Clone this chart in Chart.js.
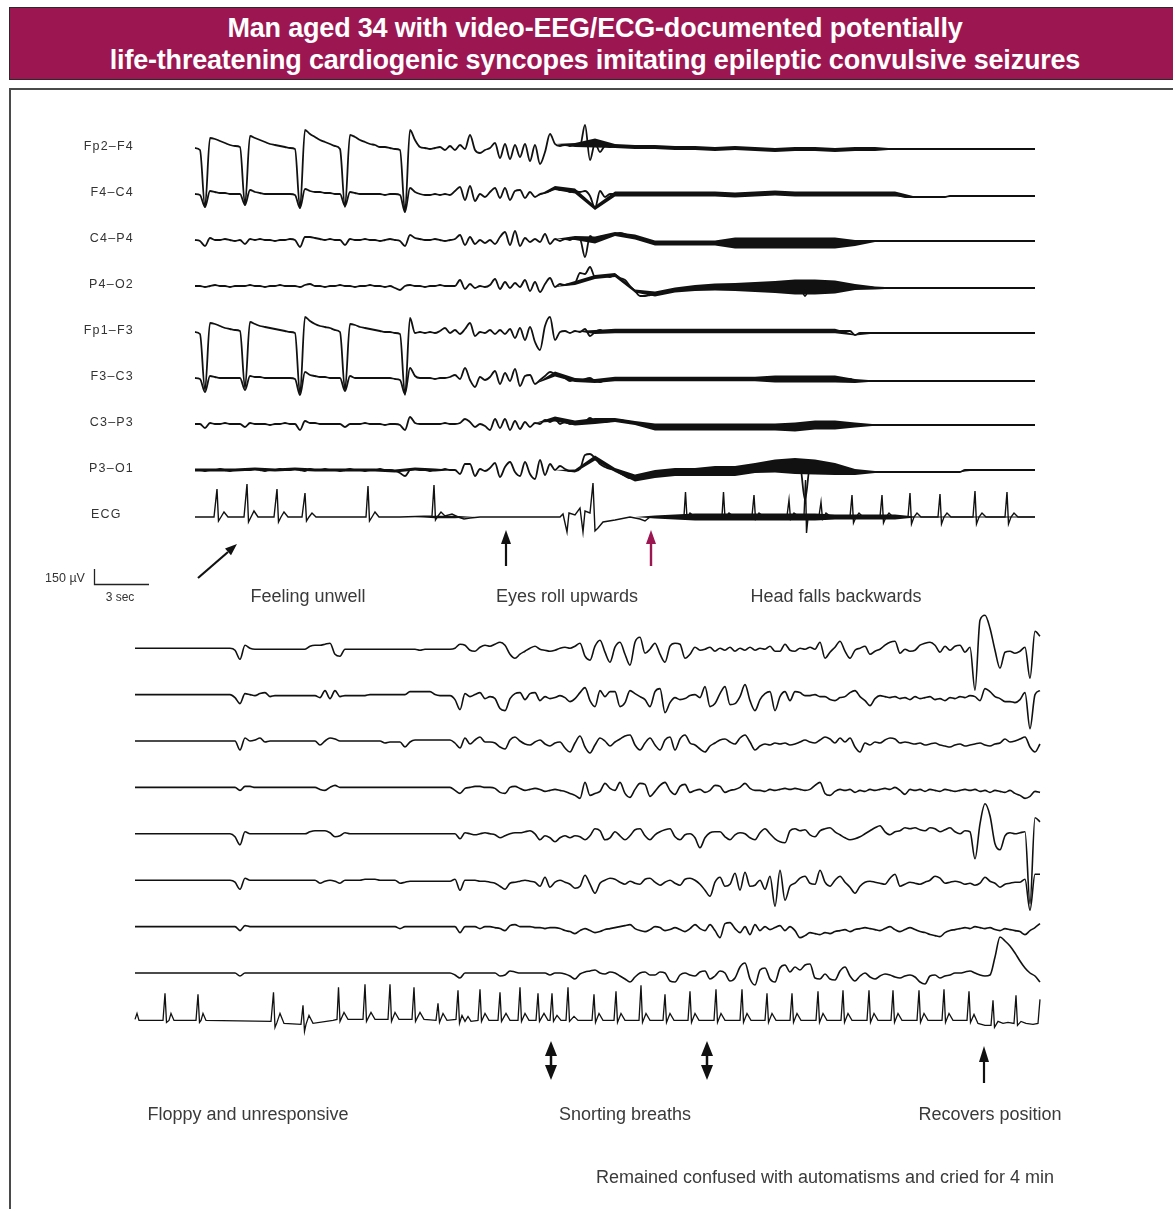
<!DOCTYPE html>
<html>
<head>
<meta charset="utf-8">
<script src="https://cdn.jsdelivr.net/npm/chart.js@4.4.1/dist/chart.umd.min.js"></script>
<style>
  html, body { margin: 0; padding: 0; background: #fff; }
  body { position: relative; width: 1173px; height: 1209px; overflow: hidden;
         font-family: "Liberation Sans", Arial, Helvetica, sans-serif; color: #333; }
  #banner { position: absolute; left: 9px; top: 7px; width: 1172px; height: 73px;
            background: #9c1652; border: 1.5px solid #2a2a2a; box-sizing: border-box;
            color: #fff; font-weight: bold; font-size: 27px; line-height: 32px;
            text-align: center; padding-top: 4px; letter-spacing: -0.2px; }
  #frame { position: absolute; left: 9px; top: 88px; width: 1180px; height: 1140px;
           border: 2px solid #4a4a4a; box-sizing: border-box; }
  canvas { position: absolute; }
  #early { left: 185px; top: 105px; }
  #late { left: 125px; top: 605px; }
  svg { position: absolute; left: 0; top: 0; }
  .chan { position: absolute; font-size: 12.5px; letter-spacing: 1.2px; color: #333;
          transform: translateY(-50%); white-space: nowrap; }
  .note { position: absolute; font-size: 18px; color: #3a3a3a; white-space: nowrap;
          transform: translate(-50%, -50%); }
  .small { position: absolute; font-size: 12.5px; color: #333; white-space: nowrap;
           transform: translate(-50%, -50%); }
</style>
</head>
<body>
<div id="banner">
  <div>Man aged 34 with video-EEG/ECG-documented potentially</div>
  <div>life-threatening cardiogenic syncopes imitating epileptic convulsive seizures</div>
</div>
<div id="frame"></div>

<canvas id="early" width="860" height="454"></canvas>
<canvas id="late" width="925" height="458"></canvas>

<svg width="1173" height="1209">
  <!-- calibration bar -->
  <path d="M94.5 569 V584.5 H149" stroke="#222" stroke-width="1.3" fill="none"/>
  <!-- feeling unwell -->
  <line x1="198" y1="578" x2="228" y2="552" stroke="#111" stroke-width="2.2"/>
  <polygon points="237,544 225,548.5 231,555.3" fill="#111"/>
  <!-- eyes roll upwards -->
  <line x1="506" y1="566" x2="506" y2="542" stroke="#111" stroke-width="2.2"/>
  <polygon points="506,530 501,544 511,544" fill="#111"/>
  <!-- head falls backwards -->
  <line x1="651" y1="566" x2="651" y2="542" stroke="#9c1652" stroke-width="2.4"/>
  <polygon points="651,530 646,544 656,544" fill="#9c1652"/>
  <!-- snorting breaths -->
  <line x1="551" y1="1054" x2="551" y2="1067" stroke="#111" stroke-width="2.5"/>
  <polygon points="551,1041 545,1056 557,1056" fill="#111"/>
  <polygon points="551,1080 545,1065 557,1065" fill="#111"/>
  <line x1="707" y1="1054" x2="707" y2="1067" stroke="#111" stroke-width="2.5"/>
  <polygon points="707,1041 701,1056 713,1056" fill="#111"/>
  <polygon points="707,1080 701,1065 713,1065" fill="#111"/>
  <!-- recovers position -->
  <line x1="984" y1="1060" x2="984" y2="1083" stroke="#111" stroke-width="2.2"/>
  <polygon points="984,1046 979,1062 989,1062" fill="#111"/>
</svg>

<div class="small" style="left:65px; top:578px;">150 µV</div>
<div class="small" style="left:120px; top:597px; font-size:12px;">3 sec</div>

<div class="note" style="left:308px; top:596px;">Feeling unwell</div>
<div class="note" style="left:567px; top:596px;">Eyes roll upwards</div>
<div class="note" style="left:836px; top:596px;">Head falls backwards</div>
<div class="note" style="left:248px; top:1114px;">Floppy and unresponsive</div>
<div class="note" style="left:625px; top:1114px;">Snorting breaths</div>
<div class="note" style="left:990px; top:1114px;">Recovers position</div>
<div class="note" style="left:825px; top:1177px;">Remained confused with automatisms and cried for 4 min</div>

<script>
// EEG; one sample every DT seconds, values in µV
const DT = 0.27;
const channelNames = ["Fp2–F4", "F4–C4", "C4–P4", "P4–O2", "Fp1–F3", "F3–C3", "C3–P3", "P3–O1", "ECG"];

// ---- first page (onset) ----
const fp2F4 = [
  0,-20,-590,100,90,70,50,30,20,10,
  -570,120,100,80,60,40,30,20,10,0,
  -10,-600,180,140,110,80,60,40,20,-10,
  -590,130,110,80,60,40,30,10,10,0,
  -10,-20,-640,180,80,10,0,-10,0,10,
  -20,20,-20,30,-10,130,-20,-50,-20,0,
  50,-100,40,-110,30,-90,40,-130,30,-160,
  -40,140,40,20,30,20,30,20,230,-120,
  50,-40,20,10,20,20,10,10,10,10,
  10,10,10,0,10,0,0,0,0,0,
  0,0,0,0,-10,0,0,-10,0,-10,
  -10,-10,-10,-10,-10,-10,-20,-10,-10,-10,
  -10,-10,-20,-10,-10,-10,-10,-10,-20,-10,
  -10,-10,-10,-20,-10,-10,-10,-10,-10,-10,
  -10,-10,-10,-10,-10,-10,-10,-10,-10,-10,
  -10,-10,-10,-10,-10,-10,-10,-10,-10,-10,
  -10,-10,-10,-10,-10,-10,-10,-10,-10
];
const f4C4 = [
  0,-10,-130,30,20,10,10,0,0,0,
  -110,40,20,10,0,0,0,0,0,0,
  -10,-140,50,30,20,20,10,10,0,0,
  -120,20,10,0,0,0,0,0,-10,0,
  0,-10,-180,60,20,0,-10,-10,0,-10,
  0,-10,30,70,-60,80,-70,0,-30,20,
  60,-40,60,-60,30,40,-40,20,-30,0,
  10,30,60,40,50,20,30,20,30,-20,
  -140,30,-30,0,0,10,0,0,0,0,
  0,0,0,0,0,0,0,0,0,0,
  0,0,0,10,0,0,0,0,-10,0,
  0,0,0,0,0,0,10,0,0,0,
  0,0,-10,0,0,0,0,0,0,0,
  0,0,0,0,0,0,0,0,0,0,
  0,-20,-30,-30,-30,-30,-30,-30,-30,-30,
  -30,-20,-20,-20,-20,-20,-20,-20,-20,-20,
  -20,-20,-20,-20,-20,-20,-20,-20,-20
];
const c4P4 = [
  0,-10,-60,20,0,0,10,0,-10,0,
  -40,10,0,10,0,0,-10,0,0,10,
  0,-70,30,30,20,10,0,10,0,0,
  -50,10,0,0,10,0,0,-10,0,10,
  0,-10,-60,50,20,10,0,0,10,0,
  -10,0,10,50,-50,30,-40,0,-30,0,
  -40,30,80,-50,90,-60,20,-20,10,-20,
  60,-40,10,-10,10,0,20,10,-170,40,
  0,30,40,50,60,70,60,40,30,10,
  -10,-20,-30,-30,-30,-30,-30,-30,-30,-30,
  -30,-30,-30,-30,-30,-30,-30,-30,-30,-30,
  -30,-30,-30,-30,-30,-30,-30,-30,-30,-30,
  -30,-30,-30,-30,-30,-30,-30,-30,-30,-30,
  -30,-30,-30,-30,-10,-10,-10,-10,-10,-10,
  -10,-10,-10,-10,-10,-10,-10,-10,-10,-10,
  -10,-10,-10,-10,-10,-10,-10,-10,-10,-10,
  -10,-10,-10,-10,-10,-10,-10,-10,-10
];
const p4O2 = [
  0,0,-10,0,10,0,0,-10,0,0,
  0,10,0,0,-10,0,0,10,0,0,
  0,-10,10,20,0,0,-10,0,0,10,
  0,0,-10,0,0,10,0,0,-10,0,
  -20,-40,0,10,0,0,-10,0,0,10,
  0,0,0,60,-30,20,-20,0,-10,10,
  70,-30,40,-20,30,-10,60,-50,40,-60,
  20,80,-10,20,10,20,30,130,120,190,
  90,90,100,90,110,80,60,0,-50,-100,
  -100,-90,-80,-70,-60,-50,-40,-40,-30,-30,
  -20,-20,-10,-10,-10,-10,-10,-10,-10,-10,
  -10,-10,-10,-10,-10,-10,-10,-10,-10,-10,
  -10,-10,-100,-10,-10,-10,-10,-10,-10,-10,
  -10,-10,-10,-10,-10,-10,-20,-20,-20,-20,
  -20,-20,-20,-20,-20,-20,-20,-20,-20,-20,
  -20,-20,-20,-20,-20,-20,-20,-20,-20,-20,
  -20,-20,-20,-20,-20,-20,-20,-20,-20
];
const fp1F3 = [
  0,-20,-580,90,80,60,40,30,20,10,
  -560,100,80,60,50,40,30,20,10,0,
  -10,-620,150,110,80,60,50,40,20,0,
  -580,80,70,50,40,30,20,10,0,0,
  -10,-20,-630,140,-10,0,-10,0,-10,10,
  40,-10,20,-20,30,90,-40,0,-10,20,
  -20,20,-20,30,-60,40,-80,50,-100,-180,
  60,150,-80,0,10,-10,10,0,30,-40,
  0,20,0,10,10,10,10,10,10,10,
  10,10,10,10,10,10,10,10,10,10,
  10,10,10,10,10,10,10,10,10,10,
  10,10,10,10,10,10,10,10,10,10,
  10,10,10,10,10,10,10,10,10,10,
  10,10,-30,-10,-10,-10,-10,-10,-10,-10,
  -10,-10,-10,-10,-10,-10,-10,-10,-10,-10,
  -10,-10,-10,-10,-10,-10,-10,-10,-10,-10,
  -10,-10,-10,-10,-10,-10,-10,-10,-10
];
const f3C3 = [
  0,-10,-140,20,10,0,0,0,0,0,
  -120,20,10,10,0,0,0,0,0,0,
  -10,-170,60,30,20,10,10,0,0,0,
  -130,20,0,0,0,0,0,0,0,0,
  -10,-20,-160,100,20,0,0,0,-10,0,
  0,10,30,-10,100,-20,-90,10,-20,10,
  70,-60,50,-30,90,-80,20,30,-60,-20,
  20,60,40,30,0,-30,-20,-30,-10,0,
  -30,-40,-20,-10,-10,-10,-10,-10,-10,-10,
  -10,-10,-10,-10,-10,-10,-10,-10,-10,-10,
  -10,-10,-10,-10,-10,-10,-10,-10,-10,-10,
  -10,-10,-10,-10,-10,-10,-10,-10,-10,-10,
  -10,-10,-10,-10,-10,-10,-10,-10,-10,-10,
  -10,-10,-30,-30,-30,-30,-30,-30,-30,-30,
  -30,-30,-30,-30,-30,-30,-30,-30,-30,-30,
  -30,-30,-30,-30,-30,-30,-30,-30,-30,-30,
  -30,-30,-30,-30,-30,-30,-30,-30,-30
];
const c3P3 = [
  0,0,-40,10,0,0,10,0,0,0,
  -30,10,0,0,0,-10,0,0,10,0,
  0,-60,30,10,10,0,0,0,0,0,
  -30,0,0,0,10,0,0,0,-10,0,
  0,-10,-60,70,10,0,0,0,0,0,
  10,0,0,10,50,20,-30,0,-20,-60,
  50,-40,50,-60,30,-50,20,-30,10,0,
  40,20,50,0,20,0,10,0,20,60,
  30,20,20,30,40,40,30,20,10,0,
  -10,-30,-30,-30,-30,-30,-30,-30,-30,-30,
  -30,-30,-30,-30,-30,-30,-30,-30,-30,-30,
  -30,-30,-30,-30,-30,-30,-30,-30,-30,-30,
  -30,-10,-10,-10,-10,-10,-10,-10,-10,-10,
  -10,-10,-10,-10,-10,-10,-10,-10,-10,-10,
  -10,-10,-10,-10,-10,-10,-10,-10,-10,-10,
  -10,-10,-10,-10,-10,-10,-10,-10,-10,-10,
  -10,-10,-10,-10,-10,-10,-10,-10,-10
];
const p3O1 = [
  0,0,-10,0,0,10,0,-10,0,0,
  0,0,10,0,-10,0,0,10,0,0,
  10,0,-10,10,0,0,10,0,0,-10,
  0,10,0,0,-10,0,0,10,0,0,
  -10,-30,-60,0,10,0,0,-10,0,0,
  10,0,0,-40,60,60,-60,10,-10,20,
  70,-70,30,80,-20,-60,80,-40,-90,100,
  -50,60,0,40,10,-10,-10,10,150,160,
  120,60,30,10,0,-30,-60,-80,-80,-70,
  -60,-50,-40,-30,-30,-20,-20,-20,-20,-20,
  -20,-20,-10,-10,-10,-10,-10,-10,-10,20,
  20,20,20,20,20,20,40,40,40,40,
  40,40,-300,30,30,20,20,10,10,0,
  -10,-10,-20,-20,-20,-20,-20,-20,-20,-20,
  -20,-20,-20,-20,-20,-20,-20,-20,-20,-20,
  -20,-20,-20,-20,0,0,0,0,0,0,
  0,0,0,0,0,0,0,0,0
];
// ECG is spiky, so it is kept as [sample position, µV] pairs
const ecgTop = [
  [0,-10],[2,-10],[3.8,-10],[4.4,270],[4.7,-50],[5.2,-10],[5.8,40],[6.6,-10],
  [9.8,-10],[10.4,320],[10.7,-60],[11.2,-10],[11.8,50],[12.6,-10],
  [15.8,-10],[16.4,270],[16.7,-60],[17.2,-10],[17.8,40],[18.6,-10],
  [21.4,-10],[22,230],[22.3,-50],[22.8,-10],[23.4,30],[24.2,-10],
  [34.2,-10],[34.6,300],[34.9,-50],[35.4,-10],[36,40],[36.8,-10],
  [41,-10],[47.4,0],[47.8,310],[48.1,-40],[48.6,0],[49.2,40],[50,0],
  [51.4,20],[52.6,-10],[53.8,-30],[55,-20],[57,-10],
  [73,-10],[73.6,20],[74.4,-160],[74.8,30],[76,10],[77,80],[77.6,-160],[78,50],
  [79,30],[79.6,330],[80,-150],[80.6,-120],[81.6,-60],[84,-40],[87,-10],[89,-30],[90,-50],[91,-10],
  [97.8,0],[98.1,240],[98.4,-20],[99,30],[99.8,0],
  [105.4,0],[105.7,240],[106,-20],[106.8,30],[107.6,0],
  [111.4,0],[111.8,210],[112.1,-30],[112.8,30],[113.6,0],
  [118.4,0],[118.8,160],[119.1,-30],[119.8,30],[120.6,0],
  [121.8,0],[122.1,360],[122.3,-170],[122.6,-20],
  [124.8,0],[125.2,140],[125.5,-30],[126.2,30],[127,0],
  [131,-10],[131.4,210],[131.7,-70],[132.2,-10],[132.8,30],[133.6,-10],
  [137,-10],[137.4,210],[137.7,-70],[138.2,-10],[138.8,30],[139.6,-10],
  [142.6,-10],[143,230],[143.3,-80],[143.8,-10],[144.4,30],[145.2,-10],
  [148.6,-10],[149,220],[149.3,-80],[149.8,-10],[150.4,30],[151.2,-10],
  [155.6,-10],[156,250],[156.3,-80],[156.8,-10],[157.4,30],[158.2,-10],
  [162,-10],[162.4,240],[162.7,-80],[163.2,-10],[163.8,30],[164.6,-10],
  [168,-10]
];
// half-width of the fast "smear" riding on each trace, read every 4th sample (µV)
const fp2F4Noise = [0,0,0,0,0,0,0,0,0,0, 0,0,0,0,0,0,0,0,0,20, 45,20,20,20,20,20,20,20,20,20, 20,20,20,20,20,6,6,6,6,6, 6,6,6];
const f4C4Noise  = [0,0,0,0,0,0,0,0,0,0, 0,0,0,0,0,0,0,0,20,25, 20,25,25,25,25,25,25,25,25,25, 25,25,25,25,25,25,6,6,6,6, 6,6,6];
const c4P4Noise  = [0,0,0,0,0,0,0,0,0,0, 0,0,0,0,0,0,0,0,0,20, 35,20,25,25,25,25,25,55,55,55, 55,55,55,30,10,10,10,10,10,10, 10,10,10];
const p4O2Noise  = [0,0,0,0,0,0,0,0,0,0, 0,0,0,0,0,0,0,0,0,20, 20,20,15,25,25,30,35,40,50,60, 75,75,65,30,15,6,6,6,6,6, 6,6,6];
const fp1F3Noise = [0,0,0,0,0,0,0,0,0,0, 0,0,0,0,0,0,0,0,0,0, 20,22,22,22,22,22,22,22,22,22, 22,22,22,6,6,6,6,6,6,6, 6,6,6];
const f3C3Noise  = [0,0,0,0,0,0,0,0,0,0, 0,0,0,0,0,0,0,0,25,20, 20,22,22,22,22,22,22,22,22,35, 35,35,35,20,6,6,6,6,6,6, 6,6,6];
const c3P3Noise  = [0,0,0,0,0,0,0,0,0,0, 0,0,0,0,0,0,0,0,25,25, 30,20,20,35,35,35,35,35,35,35, 45,45,45,25,8,8,8,8,8,8, 8,8,8];
const p3O1Noise  = [15,15,15,15,15,15,15,15,15,15, 15,15,15,0,0,0,0,0,0,15, 25,20,35,40,40,40,50,50,50,65, 80,75,60,30,10,6,6,6,6,6, 6,6,6];
const ecgTopNoise = [0,0,0,0,0,0,0,0,0,0, 0,0,12,12,0,0,0,0,0,0, 0,0,0,15,25,35,35,35,35,35, 35,35,25,25,25,25,5,5,5,5, 5,5,5];

// ---- second page (continuation) ----
const fp2F4Late = [
  0,0,0,0,0,0,0,0,0,0,
  0,0,0,0,0,0,0,0,0,0,
  -20,-110,30,0,-10,-10,-10,-10,-10,-10,
  -10,-10,-10,-10,-10,20,30,30,40,50,
  -60,-80,-10,-10,-10,-10,-10,-10,-10,-10,
  -10,-10,-10,-10,-10,-10,-10,-20,-10,-10,
  -10,-10,-10,-10,0,40,30,-20,-30,10,
  30,20,40,60,30,-60,-100,-60,-30,0,
  20,-10,-20,-30,-20,0,10,0,20,50,
  -80,-120,20,80,-40,-140,10,60,-60,-170,
  60,110,-50,-10,50,-60,-140,20,50,40,
  -100,-60,10,-20,-10,10,-30,0,-20,10,
  -30,0,-20,10,-20,0,-10,20,-30,-30,
  40,-20,-30,0,-10,10,-10,60,-100,-40,
  10,70,-30,-100,-20,0,20,-60,-30,-10,
  30,60,70,-50,-10,-30,-20,30,50,60,
  30,-40,20,-20,20,30,-40,10,-420,280,
  330,200,-20,-200,-40,-30,-50,-30,10,-300,
  170,120
];
const f4C4Late = [
  0,0,0,0,0,0,0,0,0,0,
  0,0,0,0,0,0,0,0,0,0,
  -30,-90,10,0,-10,10,20,-20,-10,-10,
  -10,-10,-10,-10,-10,-10,-10,-30,40,-40,
  40,-20,-10,-10,-10,-10,-10,0,0,0,
  0,0,0,0,0,30,30,30,30,30,
  0,-10,-10,-10,-50,-150,10,-20,0,20,
  -40,-20,-40,-140,-160,-40,10,20,-50,10,
  20,-60,-20,-40,-30,-10,-30,-70,-40,20,
  70,-60,-120,40,-20,30,30,-120,-80,40,
  10,-20,-50,-120,30,60,-180,-80,-30,-50,
  -40,-10,0,-30,80,-120,-90,10,80,-100,
  -90,-20,100,-60,-160,-50,10,30,-160,-20,
  30,-60,30,20,-10,-10,0,-20,-20,-50,
  -60,-30,-20,20,40,-20,-60,-110,-40,-10,
  -20,-30,-20,-40,-30,-50,-20,-40,-30,-20,
  -50,-40,-60,-30,-40,-20,-30,-10,-20,-60,
  60,30,-20,-40,-70,-70,-80,-50,20,-340,
  0,40
];
const c4P4Late = [
  0,0,0,0,0,0,0,0,0,0,
  0,0,0,0,0,0,0,0,0,0,
  0,-90,30,0,10,30,-10,0,0,0,
  0,0,0,0,0,0,0,-40,0,30,
  20,0,0,0,0,0,0,0,0,0,
  -20,-10,-10,-10,-60,-10,10,10,10,10,
  10,10,10,10,-20,-70,30,-30,10,40,
  -10,-10,-20,-60,-80,10,40,0,-30,-40,
  -10,10,-30,-50,-20,-10,-70,-110,-20,50,
  -60,-120,-40,30,0,-50,-10,20,50,60,
  -40,-90,-20,30,-40,-90,10,40,-90,20,
  60,-20,-40,-80,-110,-50,-20,10,20,-10,
  -30,30,60,-10,-90,-50,-30,-40,-20,-30,
  -20,-40,-30,-10,10,-10,-20,10,40,20,
  -20,30,-10,30,-60,-110,-20,-40,-10,-20,
  10,30,20,-20,-10,-20,-30,-20,-40,-30,
  -20,-40,-50,-60,-40,-30,-50,-40,-30,-20,
  -40,-50,-30,-20,20,-10,0,20,40,-60,
  -110,-30
];
const p4O2Late = [
  0,0,0,0,0,0,0,0,0,0,
  0,0,0,0,0,0,0,0,0,0,
  0,-30,10,10,0,0,0,0,0,0,
  0,0,0,0,0,0,0,-20,-30,0,
  20,0,0,0,0,0,0,0,0,0,
  0,0,0,0,0,0,0,0,0,0,
  0,0,0,0,-30,-60,-10,0,10,10,
  0,0,-10,-50,-60,0,10,-10,-30,-20,
  -10,-20,-40,-30,-20,-30,-40,-60,-80,-110,
  50,-80,-60,-40,40,-10,-30,50,-60,-100,
  -20,40,30,-90,-40,20,50,-30,-70,10,
  30,-50,-30,-20,-50,-30,20,10,-50,-30,
  -20,0,40,-10,-30,-30,-40,-20,-30,-20,
  -10,-20,-10,-20,-30,-20,20,50,-60,-80,
  -40,-20,-30,-20,-50,-30,-40,-20,-30,-20,
  -10,-20,0,-30,-70,-20,-30,-20,-40,-20,
  -30,-40,-20,-30,-40,-30,-20,-30,-20,-40,
  -30,-50,-30,-40,-50,-30,-60,-80,-110,-90,
  -40,-50
];
const fp1F3Late = [
  0,0,0,0,0,0,0,0,0,0,
  0,0,0,0,0,0,0,0,0,0,
  -30,-110,20,0,0,0,0,0,0,0,
  0,0,0,0,0,20,30,30,30,10,
  -30,-20,10,0,0,0,0,0,0,0,
  0,0,0,0,0,0,0,0,0,0,
  0,0,0,0,0,-50,10,0,-10,0,
  10,0,-10,-40,-20,0,10,10,20,30,
  0,-60,-20,-40,-80,-40,-20,-40,-20,-30,
  -60,-20,50,30,-60,-40,20,-20,-60,-20,
  40,50,-20,-60,-10,20,40,50,-30,-60,
  -10,0,-40,-140,-40,10,20,20,-30,-60,
  -10,10,0,-40,-60,10,50,0,-50,-80,
  -90,30,50,30,40,-10,-30,30,50,60,
  20,-10,-40,-60,-50,-30,0,30,60,80,
  20,-10,20,30,60,50,60,40,30,60,
  50,20,40,60,20,0,30,20,-250,100,
  300,180,-100,-160,-20,10,0,10,20,-700,
  160,120
];
const f3C3Late = [
  0,0,0,0,0,0,0,0,0,0,
  0,0,0,0,0,0,0,0,0,0,
  -20,-90,20,0,0,0,0,0,0,0,
  0,0,0,0,0,0,0,-30,-10,0,
  -10,-30,0,0,0,0,10,10,10,0,
  0,0,0,-30,-20,-10,-10,-10,-10,-10,
  -10,-10,-10,-10,10,-100,0,0,0,-10,
  -10,-20,-30,-60,-90,-30,-20,-10,0,-10,
  -20,-60,30,-70,-20,0,-20,-40,-80,-60,
  50,-40,-130,-30,0,20,10,-20,-40,-10,
  -30,-40,10,20,-20,-50,-20,0,-30,-50,
  10,20,0,-40,-100,-160,-20,30,-60,-40,
  70,-100,80,-60,-50,0,-90,40,-260,100,
  -200,-60,-30,20,40,-30,-40,100,-20,-60,
  0,40,-20,-70,-130,-60,-20,-10,-20,-30,
  -40,20,60,-60,-40,-20,-30,-40,-20,0,
  40,20,-30,-20,-10,-20,-40,-30,-50,-30,
  30,-10,-30,-70,-40,-30,-20,-20,10,-300,
  60,60
];
const c3P3Late = [
  0,0,0,0,0,0,0,0,0,0,
  0,0,0,0,0,0,0,0,0,0,
  0,-40,10,0,0,0,0,0,0,0,
  0,0,0,0,0,0,0,0,0,0,
  0,0,0,0,0,0,0,0,0,0,
  0,0,0,-20,0,0,0,0,0,0,
  0,0,0,0,0,-60,0,0,0,-20,
  0,0,-10,-20,-40,10,20,0,0,0,
  -10,-10,-20,-10,-10,-20,-40,-50,-70,-40,
  -20,-40,-60,-50,-30,-20,-10,0,10,20,
  -20,-40,-50,-30,0,-10,-40,-30,-10,-30,
  -50,-20,20,-20,-40,20,-40,-110,30,40,
  -20,-60,0,-80,20,-40,0,-30,-10,10,
  -40,0,-40,-110,-90,-60,-70,-80,-60,-70,
  -50,-40,-30,-50,-30,-20,-10,-20,-30,-40,
  -20,0,-30,-50,-30,-10,-30,-50,-60,-80,
  -90,-100,-60,-40,-30,-20,-10,-20,0,-10,
  -20,-10,-30,-40,-20,-30,-40,-50,-80,-40,
  -10,30
];
const p3O1Late = [
  0,0,0,0,0,0,0,0,0,0,
  0,0,0,0,0,0,0,0,0,0,
  0,-30,0,0,0,0,0,0,0,0,
  0,0,0,0,0,0,0,0,0,0,
  0,0,0,0,0,0,0,0,0,0,
  0,0,0,0,0,0,0,0,0,0,
  0,0,0,0,-20,-50,0,0,0,0,
  0,0,0,-30,-20,20,10,0,0,0,
  0,0,0,-20,0,0,-10,-30,-60,-10,
  10,20,30,0,-10,10,0,-30,-60,-90,
  -40,0,10,-20,-20,10,0,-80,-90,-20,
  0,-20,-30,10,20,-60,-30,20,0,-80,
  -50,60,100,-60,-120,30,50,-60,-90,50,
  80,10,60,30,80,90,-50,-60,-10,-60,
  -70,20,60,-30,-80,-30,0,-40,-60,-30,
  -10,-20,-40,-50,-30,-20,-40,-90,-110,-30,
  -20,-50,-30,-20,0,0,10,20,0,-20,
  -30,-20,160,360,320,270,200,120,50,0,
  -30,-90
];
const ecgLate = [
  [0,0],[0.4,60],[0.8,-10],[5.6,-10],[6,260],[6.3,-30],[6.8,-10],[7.2,60],[7.8,-10],
  [12.2,-10],[12.6,250],[12.9,-30],[13.2,-10],[13.6,60],[14.2,-10],
  [27.2,-20],[27.7,270],[28,-80],[28.4,-30],[29,60],[29.8,-40],
  [33.2,-50],[33.6,140],[33.9,-120],[34.2,-50],[34.8,40],[35.6,-40],
  [39.6,-10],[40.4,0],[40.7,320],[41,-20],[41.8,70],[42.6,0],
  [45.6,0],[46,350],[46.3,-20],[47.2,70],[48,0],
  [50.6,0],[51,350],[51.3,-20],[52,70],[52.8,0],
  [55.4,0],[55.8,320],[56.1,-20],[57,70],[57.8,0],
  [60.2,-10],[60.6,160],[60.9,-30],[61.6,60],[62.4,-10],
  [64.2,0],[64.6,290],[64.9,-40],[65.4,40],[66,-20],[66.6,30],[67.2,-20],
  [68.6,-10],[69,300],[69.3,-20],[70,60],[70.8,-10],
  [72.6,-10],[73,270],[73.3,-20],[74.2,60],[75,-10],
  [76.6,-10],[77,320],[77.3,-20],[78,60],[78.8,-10],
  [80.2,-10],[80.6,260],[80.9,-20],[81.8,60],[82.6,-10],
  [83,-10],[83.4,260],[83.7,-20],[84.4,40],[85.2,-10],
  [86.2,-10],[86.6,320],[86.9,-20],[87.8,30],[88.6,-10],
  [91.4,-10],[91.8,250],[92.1,-30],[92.8,60],[93.6,-10],
  [95.8,-10],[96.2,280],[96.5,-30],[97.2,60],[98,-10],
  [100.8,-10],[101.2,340],[101.5,-30],[102.2,60],[103,-10],
  [105.6,-10],[106,250],[106.3,-30],[107,60],[107.8,-10],
  [110.6,-10],[111,280],[111.3,-30],[112,60],[112.8,-10],
  [115.8,-10],[116.2,300],[116.5,-30],[117.2,60],[118,-10],
  [121,-10],[121.4,300],[121.7,-30],[122.4,60],[123.2,-10],
  [126,-10],[126.4,260],[126.7,-30],[127.4,60],[128.2,-10],
  [131,-10],[131.4,260],[131.7,-30],[132.4,60],[133.2,-10],
  [136.2,-10],[136.6,280],[136.9,-30],[137.6,60],[138.4,-10],
  [141.2,-10],[141.6,290],[141.9,-30],[142.6,60],[143.4,-10],
  [146.4,-10],[146.8,290],[147.1,-30],[147.8,60],[148.6,-10],
  [151.2,-10],[151.6,290],[151.9,-30],[152.6,60],[153.4,-10],
  [156.4,-10],[156.8,290],[157.1,-30],[157.8,60],[158.6,-10],
  [161.4,-10],[161.8,300],[162.1,-30],[162.8,60],[163.6,-10],
  [166.4,-10],[166.8,280],[167.1,-30],[167.8,50],[168.6,-40],
  [170,-60],[171.2,-60],[171.6,190],[171.9,-80],[172.6,-20],[173.6,-40],[174.6,-30],
  [175.8,-40],[176.2,240],[176.5,-60],[177.2,-20],[178.2,-40],[179.6,-50],[180.6,-40],[181,200]
];

const INK = "#111";
const ECG_BASE = -10;      // isoelectric level the ECG smear is centred on
const GAP_TOP = 460;       // µV between channel baselines, first page
const GAP_LATE = 464;      // µV between channel baselines, second page

function traceSet(vals, k, gap, width) {
  return {
    data: vals.map((v, i) => ({ x: i * DT, y: v - k * gap })),
    borderColor: INK, borderWidth: width, pointRadius: 0,
    cubicInterpolationMode: "monotone", fill: false, clip: false
  };
}
function ecgSet(pairs, k, gap, width) {
  return {
    data: pairs.map(([s, v]) => ({ x: s * DT, y: v - k * gap })),
    borderColor: INK, borderWidth: width, pointRadius: 0,
    tension: 0, fill: false, clip: false
  };
}
function noiseSets(vals, noise, k, gap) {
  const mid = (j) => (vals ? vals[j * 4] : ECG_BASE);
  return [
    { data: noise.map((n, j) => ({ x: j * 4 * DT, y: mid(j) + n - k * gap })),
      borderWidth: 0, pointRadius: 0, fill: false, clip: false },
    { data: noise.map((n, j) => ({ x: j * 4 * DT, y: mid(j) - n - k * gap })),
      borderWidth: 0, pointRadius: 0, fill: "-1", backgroundColor: INK, clip: false }
  ];
}

function baseOptions(nSamples, gap, nRows, padBottom) {
  return {
    responsive: false, animation: false, devicePixelRatio: 1, events: [],
    layout: { padding: { left: 10, right: 10, top: 20, bottom: padBottom } },
    plugins: { legend: { display: false }, tooltip: { enabled: false } },
    scales: {
      x: { type: "linear", display: false, min: 0, max: (nSamples - 1) * DT },
      y: { type: "linear", display: false, min: -(nRows - 1) * gap - gap / 2, max: gap / 2 }
    }
  };
}

const earlyEeg = [fp2F4, f4C4, c4P4, p4O2, fp1F3, f3C3, c3P3, p3O1];
const earlyNoise = [fp2F4Noise, f4C4Noise, c4P4Noise, p4O2Noise, fp1F3Noise, f3C3Noise, c3P3Noise, p3O1Noise];
const earlySets = [];
earlyEeg.forEach((vals, k) => {
  earlySets.push(...noiseSets(vals, earlyNoise[k], k, GAP_TOP));
  earlySets.push(traceSet(vals, k, GAP_TOP, 1.8));
});
earlySets.push(...noiseSets(null, ecgTopNoise, 8, GAP_TOP));
earlySets.push(ecgSet(ecgTop, 8, GAP_TOP, 1.4));

const earlyChart = new Chart(document.getElementById("early"), {
  type: "line",
  data: { datasets: earlySets },
  options: baseOptions(fp2F4.length, GAP_TOP, 9, 20)
});

const lateEeg = [fp2F4Late, f4C4Late, c4P4Late, p4O2Late, fp1F3Late, f3C3Late, c3P3Late, p3O1Late];
const lateSets = lateEeg.map((vals, k) => traceSet(vals, k, GAP_LATE, 1.6));
lateSets.push(ecgSet(ecgLate, 8, GAP_LATE, 1.3));

new Chart(document.getElementById("late"), {
  type: "line",
  data: { datasets: lateSets },
  options: baseOptions(fp2F4Late.length, GAP_LATE, 9, 20.4)
});

// channel names sit on the first page, level with each baseline
const canvasTop = document.getElementById("early").offsetTop;
channelNames.forEach((name, k) => {
  const el = document.createElement("div");
  el.className = "chan";
  el.textContent = name;
  const y = earlyChart.scales.y.getPixelForValue(-k * GAP_TOP) + canvasTop - 2;
  el.style.top = y + "px";
  if (name === "ECG") { el.style.left = "91px"; }
  else { el.style.right = (1173 - 134) + "px"; }
  document.body.appendChild(el);
});
</script>
</body>
</html>
